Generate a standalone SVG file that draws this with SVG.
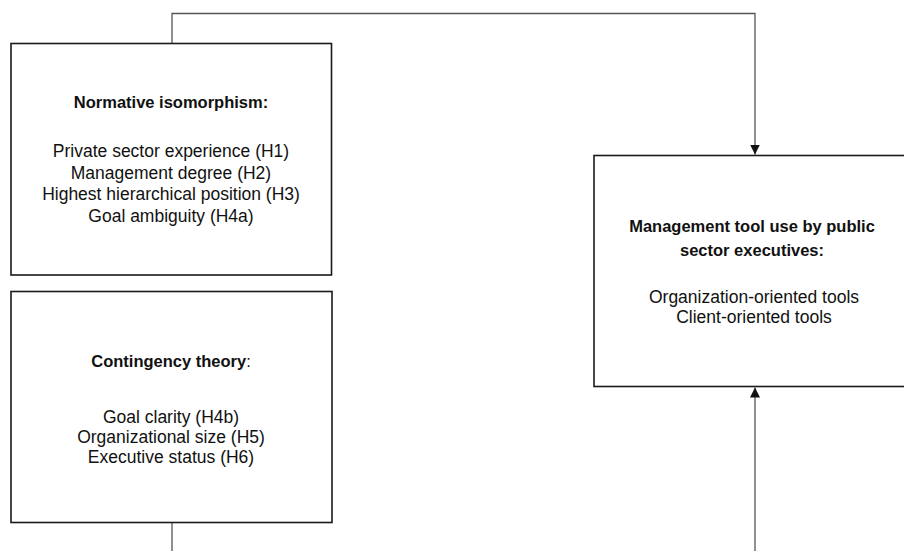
<svg xmlns="http://www.w3.org/2000/svg" width="904" height="551" viewBox="0 0 904 551">
<style>
  .box { fill: #ffffff; stroke: #1a1a1a; stroke-width: 1.6; }
  .conn { fill: none; stroke: #555555; stroke-width: 1.3; }
  .t { font-family: "Liberation Sans", Arial, sans-serif; font-size: 17.5px; fill: #111111; text-anchor: middle; }
  .b { font-weight: bold; font-size: 16.5px; }
  .n { font-weight: normal; }
</style>
<defs>
  <marker id="arr" viewBox="0 0 10 10" refX="10" refY="5" markerWidth="10" markerHeight="10" markerUnits="userSpaceOnUse" orient="auto">
    <path d="M0,0 L10,5 L0,10 Z" fill="#111111"/>
  </marker>
</defs>
<g id="connectors">
  <path class="conn" d="M172,43.5 V13.5 H755 V154.5" marker-end="url(#arr)"/>
  <path class="conn" d="M755,551 V387.5" marker-end="url(#arr)"/>
  <path class="conn" d="M172,522 V551"/>
</g>
<g id="normative">
  <rect class="box" x="11" y="43.5" width="320.5" height="231.5"/>
  <text class="t b" x="171" y="108">Normative isomorphism:</text>
  <text class="t" x="171" y="157">Private sector experience (H1)</text>
  <text class="t" x="171" y="178.5">Management degree (H2)</text>
  <text class="t" x="171" y="200">Highest hierarchical position (H3)</text>
  <text class="t" x="171" y="221.5">Goal ambiguity (H4a)</text>
</g>
<g id="contingency">
  <rect class="box" x="11" y="291.5" width="321" height="231"/>
  <text class="t b" x="171" y="367">Contingency theory<tspan class="n">:</tspan></text>
  <text class="t" x="171" y="422.5">Goal clarity (H4b)</text>
  <text class="t" x="171" y="442.5">Organizational size (H5)</text>
  <text class="t" x="171" y="462.5">Executive status (H6)</text>
</g>
<g id="toolUse">
  <rect class="box" x="594" y="155.5" width="314" height="231"/>
  <text class="t b" x="752" y="232">Management tool use by public</text>
  <text class="t b" x="752" y="256">sector executives:</text>
  <text class="t" x="754" y="302.5">Organization-oriented tools</text>
  <text class="t" x="754" y="323">Client-oriented tools</text>
</g>
</svg>
